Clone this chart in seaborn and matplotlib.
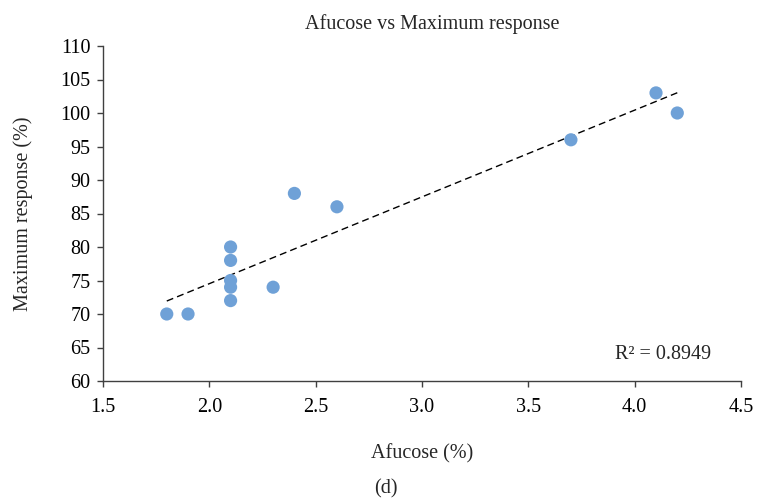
import numpy as np
import pandas as pd
import matplotlib
matplotlib.use("Agg")
import matplotlib.pyplot as plt
import seaborn as sns

# Afucose content vs maximum response
afucose = [1.8, 1.9, 2.1, 2.1, 2.1, 2.1, 2.1, 2.3, 2.4, 2.6, 3.7, 4.1, 4.2]
max_response = [70, 70, 72, 74, 75, 78, 80, 74, 88, 86, 96, 103, 100]
r2_label = "R\u00b2 = 0.8949"

x_ticks = [1.5, 2.0, 2.5, 3.0, 3.5, 4.0, 4.5]
y_ticks = [60, 65, 70, 75, 80, 85, 90, 95, 100, 105, 110]

sns.set_style("ticks")
plt.rcParams["font.family"] = ["Liberation Serif", "DejaVu Serif"]
FS = 14.5
plt.rcParams["font.size"] = FS

df = pd.DataFrame({"afucose": afucose, "response": max_response})

fig = plt.figure(figsize=(7.57, 5.0), dpi=100)
ax = fig.add_axes([0.136, 0.238, 0.843, 0.670])

sns.scatterplot(data=df, x="afucose", y="response", ax=ax,
                color="#6FA1D7", s=90, edgecolor="none", zorder=3)

# Linear trendline over the observed range
slope, intercept = np.polyfit(df["afucose"], df["response"], 1)
xs = np.array([min(afucose), max(afucose)])
trend = pd.DataFrame({"x": xs, "y": slope * xs + intercept})
sns.lineplot(data=trend, x="x", y="y", ax=ax, color="black",
             linestyle=(0, (5, 3)), linewidth=1.0, zorder=2)

ax.set_xlim(1.5, 4.5)
ax.set_ylim(60, 110)
ax.set_xticks(x_ticks)
ax.set_xticklabels([f"{t:.1f}" for t in x_ticks])
ax.set_yticks(y_ticks)
ax.set_yticklabels([str(t) for t in y_ticks])

for side in ("top", "right"):
    ax.spines[side].set_visible(False)
for side in ("left", "bottom"):
    ax.spines[side].set_color("#404040")
    ax.spines[side].set_linewidth(1.0)
ax.tick_params(axis="both", colors="#404040", labelcolor="black",
               labelsize=FS, length=4, width=1.0)
ax.tick_params(axis="x", pad=8)
ax.tick_params(axis="y", pad=5)

ax.set_xlabel("Afucose (%)", fontsize=FS, labelpad=20)
ax.set_ylabel("Maximum response (%)", fontsize=FS, labelpad=20)

ax.text(4.36, 63.9, r2_label, ha="right", va="center", fontsize=FS)

fig.text(0.571, 0.952, "Afucose vs Maximum response", ha="center",
         va="center", fontsize=FS)
fig.text(0.51, 0.022, "(d)", ha="center", va="center", fontsize=FS)

fig.savefig("out.png", dpi=100)
